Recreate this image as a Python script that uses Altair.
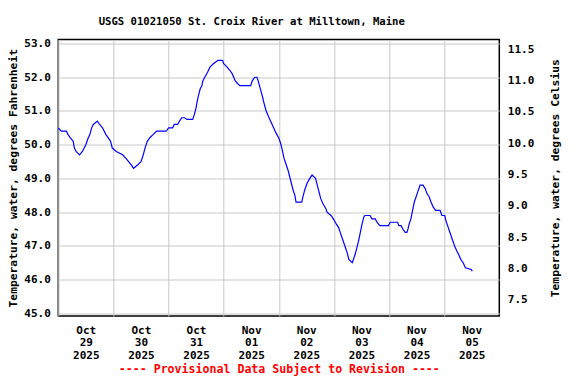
import altair as alt
import pandas as pd

times = [
    "2025-10-29T00:00", "2025-10-29T01:15", "2025-10-29T03:30", "2025-10-29T04:15", "2025-10-29T05:15",
    "2025-10-29T06:30", "2025-10-29T07:00", "2025-10-29T07:45", "2025-10-29T09:15", "2025-10-29T10:30",
    "2025-10-29T12:00", "2025-10-29T13:00", "2025-10-29T13:45", "2025-10-29T14:30", "2025-10-29T15:15",
    "2025-10-29T17:00", "2025-10-29T18:00", "2025-10-29T19:15", "2025-10-29T20:45", "2025-10-29T21:45",
    "2025-10-29T22:45", "2025-10-29T23:30", "2025-10-30T01:15", "2025-10-30T04:00", "2025-10-30T06:00",
    "2025-10-30T07:45", "2025-10-30T08:45", "2025-10-30T10:30", "2025-10-30T12:00", "2025-10-30T13:00",
    "2025-10-30T13:45", "2025-10-30T14:45", "2025-10-30T15:45", "2025-10-30T17:15", "2025-10-30T18:45",
    "2025-10-30T23:00", "2025-10-31T00:00", "2025-10-31T01:45", "2025-10-31T02:30", "2025-10-31T04:00",
    "2025-10-31T04:45", "2025-10-31T05:45", "2025-10-31T07:00", "2025-10-31T08:00", "2025-10-31T10:30",
    "2025-10-31T11:15", "2025-10-31T12:00", "2025-10-31T12:30", "2025-10-31T13:00", "2025-10-31T13:45",
    "2025-10-31T14:30", "2025-10-31T15:00", "2025-10-31T15:45", "2025-10-31T17:00", "2025-10-31T18:00",
    "2025-10-31T19:30", "2025-10-31T21:30", "2025-10-31T23:30", "2025-11-01T00:00", "2025-11-01T01:30",
    "2025-11-01T02:45", "2025-11-01T03:45", "2025-11-01T05:00", "2025-11-01T06:15", "2025-11-01T07:00",
    "2025-11-01T11:45", "2025-11-01T12:30", "2025-11-01T13:30", "2025-11-01T14:30", "2025-11-01T15:00",
    "2025-11-01T16:00", "2025-11-01T17:00", "2025-11-01T17:30", "2025-11-01T18:30", "2025-11-01T19:45",
    "2025-11-01T20:45", "2025-11-01T21:45", "2025-11-01T22:45", "2025-11-02T00:00", "2025-11-02T00:45",
    "2025-11-02T01:30", "2025-11-02T02:15", "2025-11-02T03:00", "2025-11-02T04:00", "2025-11-02T04:45",
    "2025-11-02T05:30", "2025-11-02T06:15", "2025-11-02T07:00", "2025-11-02T07:30", "2025-11-02T10:00",
    "2025-11-02T10:30", "2025-11-02T11:15", "2025-11-02T12:15", "2025-11-02T13:30", "2025-11-02T14:30",
    "2025-11-02T15:15", "2025-11-02T16:00", "2025-11-02T16:45", "2025-11-02T17:30", "2025-11-02T18:15",
    "2025-11-02T19:15", "2025-11-02T20:30", "2025-11-02T21:00", "2025-11-02T22:45", "2025-11-02T23:45",
    "2025-11-03T01:00", "2025-11-03T02:00", "2025-11-03T02:45", "2025-11-03T03:30", "2025-11-03T04:15",
    "2025-11-03T05:00", "2025-11-03T05:45", "2025-11-03T06:30", "2025-11-03T08:00", "2025-11-03T08:30",
    "2025-11-03T09:15", "2025-11-03T10:00", "2025-11-03T10:45", "2025-11-03T11:30", "2025-11-03T12:15",
    "2025-11-03T13:00", "2025-11-03T13:30", "2025-11-03T15:45", "2025-11-03T16:30", "2025-11-03T18:00",
    "2025-11-03T18:45", "2025-11-03T20:00", "2025-11-03T23:45", "2025-11-04T00:30", "2025-11-04T03:45",
    "2025-11-04T04:15", "2025-11-04T05:15", "2025-11-04T06:00", "2025-11-04T07:00", "2025-11-04T07:45",
    "2025-11-04T08:15", "2025-11-04T08:45", "2025-11-04T09:30", "2025-11-04T10:15", "2025-11-04T11:00",
    "2025-11-04T11:45", "2025-11-04T12:30", "2025-11-04T13:30", "2025-11-04T14:45", "2025-11-04T15:45",
    "2025-11-04T16:30", "2025-11-04T17:30", "2025-11-04T18:15", "2025-11-04T19:15", "2025-11-04T20:15",
    "2025-11-04T22:15", "2025-11-04T23:00", "2025-11-05T00:15", "2025-11-05T00:45", "2025-11-05T01:30",
    "2025-11-05T02:15", "2025-11-05T03:00", "2025-11-05T03:45", "2025-11-05T04:30", "2025-11-05T05:30",
    "2025-11-05T06:15", "2025-11-05T07:15", "2025-11-05T08:15", "2025-11-05T09:15", "2025-11-05T11:45",
    "2025-11-05T12:15",
]

temp_f = [
    50.5, 50.4, 50.4, 50.3, 50.2,
    50.1, 49.9, 49.8, 49.7, 49.8,
    50.0, 50.2, 50.3, 50.5, 50.6,
    50.7, 50.6, 50.5, 50.3, 50.2,
    50.1, 49.9, 49.8, 49.7, 49.55,
    49.4, 49.3, 49.4, 49.5, 49.7,
    49.9, 50.1, 50.2, 50.3, 50.4,
    50.4, 50.5, 50.5, 50.6, 50.6,
    50.7, 50.8, 50.8, 50.75, 50.75,
    50.9, 51.1, 51.3, 51.45, 51.65,
    51.75, 51.9, 52.0, 52.15, 52.3,
    52.4, 52.5, 52.5, 52.4, 52.3,
    52.2, 52.1, 51.9, 51.8, 51.75,
    51.75, 51.9, 52.0, 52.0, 51.9,
    51.65, 51.4, 51.25, 51.0, 50.8,
    50.65, 50.5, 50.35, 50.2, 50.05,
    49.85, 49.6, 49.45, 49.25, 49.05,
    48.85, 48.65, 48.5, 48.3, 48.3,
    48.45, 48.65, 48.85, 49.0, 49.1,
    49.05, 49.0, 48.8, 48.6, 48.4,
    48.25, 48.1, 48.0, 47.9, 47.8,
    47.65, 47.55, 47.4, 47.25, 47.1,
    46.95, 46.8, 46.6, 46.5, 46.6,
    46.75, 46.95, 47.15, 47.4, 47.65,
    47.85, 47.9, 47.9, 47.8, 47.8,
    47.7, 47.6, 47.6, 47.7, 47.7,
    47.6, 47.6, 47.5, 47.4, 47.4,
    47.5, 47.65, 47.8, 48.05, 48.3,
    48.45, 48.6, 48.8, 48.8, 48.7,
    48.55, 48.45, 48.3, 48.15, 48.05,
    48.05, 47.9, 47.9, 47.75, 47.6,
    47.45, 47.3, 47.15, 47.0, 46.85,
    46.75, 46.6, 46.5, 46.35, 46.3,
    46.25,
]

f_ticks = [45, 46, 47, 48, 49, 50, 51, 52, 53]
c_ticks = [7.5, 8.0, 8.5, 9.0, 9.5, 10.0, 10.5, 11.0, 11.5]
day_ticks = [(2025, 10, 29), (2025, 10, 30), (2025, 10, 31), (2025, 11, 1),
             (2025, 11, 2), (2025, 11, 3), (2025, 11, 4), (2025, 11, 5)]

df = pd.DataFrame({"time": times, "temp_f": temp_f})
df["temp_c"] = (df["temp_f"] - 32) * 5 / 9

FONT = "DejaVu Sans Mono"
x_domain = [alt.DateTime(year=2025, month=10, date=29), alt.DateTime(year=2025, month=11, date=6)]
x_vals = [alt.DateTime(year=y, month=m, date=d) for (y, m, d) in day_ticks]

x_enc = alt.X(
    "time:T",
    scale=alt.Scale(domain=x_domain),
    axis=alt.Axis(
        values=x_vals,
        labelExpr="[timeFormat(datum.value, '%b'), timeFormat(datum.value, '%d'), timeFormat(datum.value, '%Y')]",
        labelOffset=27.5,
        labelAlign="center",
        labelBaseline="top",
        labelFlush=False,
        labelOverlap=False,
        labelPadding=8,
        labelLineHeight=12.7,
        ticks=False,
        domain=False,
        grid=True,
        title="---- Provisional Data Subject to Revision ----",
        titleColor="#ff0000",
        titleFontSize=11.6,
        titlePadding=3.5,
    ),
)

left = alt.Chart(df).mark_line(color="#0000ff", strokeWidth=1.2, interpolate="linear").encode(
    x=x_enc,
    y=alt.Y(
        "temp_f:Q",
        scale=alt.Scale(domain=[44.92, 53.12], nice=False, zero=False),
        axis=alt.Axis(
            values=f_ticks,
            format=".1f",
            ticks=False,
            domain=False,
            grid=True,
            labelPadding=8,
            title="Temperature, water, degrees Fahrenheit",
            titlePadding=5,
            titleFontSize=11.3,
        ),
    ),
)

right = alt.Chart(df).mark_line(opacity=0).encode(
    x=alt.X("time:T", scale=alt.Scale(domain=x_domain)),
    y=alt.Y(
        "temp_c:Q",
        scale=alt.Scale(domain=[7.238, 11.657], nice=False, zero=False),
        axis=alt.Axis(
            orient="right",
            values=c_ticks,
            format=".1f",
            ticks=False,
            domain=False,
            grid=False,
            labelPadding=8,
            title="Temperature, water, degrees Celsius",
            titleAngle=270,
            titlePadding=27,
            titleFontSize=11.3,
        ),
    ),
)

chart = (
    alt.layer(left, right)
    .resolve_scale(y="independent")
    .properties(
        width=441,
        height=276.5,
        autosize=alt.AutoSizeParams(type="none"),
        padding={"left": 50.3, "top": 31.5, "right": 68.7, "bottom": 60},
        title=alt.TitleParams(
            "USGS 01021050 St. Croix River at Milltown, Maine",
            font=FONT,
            fontSize=10.6,
            fontWeight="bold",
            anchor="middle",
            dx=-27,
            offset=10,
            color="black",
        ),
    )
    .configure(font=FONT)
    .configure_view(stroke="black", strokeWidth=1.5)
    .configure_axis(
        labelFont=FONT,
        labelFontSize=11,
        labelFontWeight="bold",
        labelColor="black",
        titleFont=FONT,
        titleFontWeight="bold",
        titleColor="black",
        gridColor="#c8c8c8",
        gridWidth=1,
        gridOpacity=1,
    )
    .configure_axisX(titleColor="#ff0000")
)

chart.save("out.html", embed_options={"renderer": "svg", "actions": False})
